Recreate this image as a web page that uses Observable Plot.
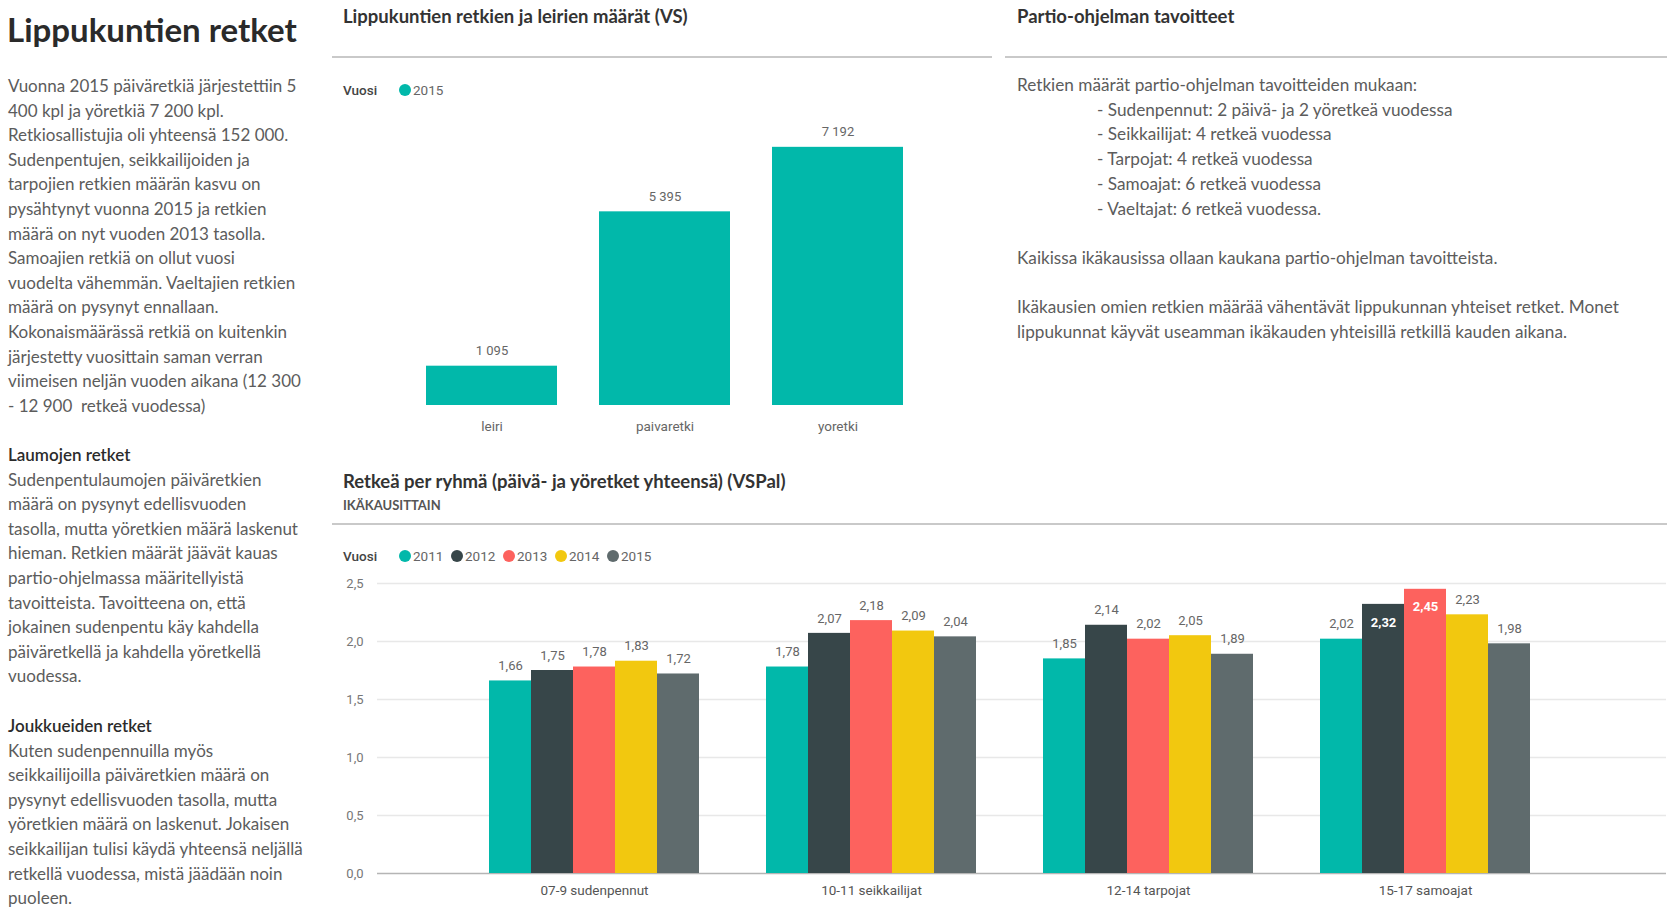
<!DOCTYPE html>
<html><head><meta charset="utf-8">
<script src="https://cdn.jsdelivr.net/npm/d3@7"></script>
<script src="https://cdn.jsdelivr.net/npm/@observablehq/plot@0.6"></script>
<style>
html,body{margin:0;padding:0;background:#fff;}
body{width:1667px;height:924px;position:relative;overflow:hidden;font-family:Lato,"Segoe UI","Open Sans",sans-serif;}
.abs{position:absolute;}
.pre{white-space:pre;}
.body-text{font-size:17px;line-height:24.6px;color:#5c5c5c;}
.heading{color:#2b2b2b;font-weight:600;}
.ptitle{font-size:18.5px;font-weight:700;color:#333;line-height:22px;}
.sub{font-size:13px;font-weight:700;color:#555;line-height:16px;}
.sep{height:0;border-top:2px solid #c9c9c9;}
.legend{font-family:Roboto,sans-serif;font-size:13.5px;color:#666;line-height:16px;display:flex;align-items:center;}
.legend .lab{font-weight:500;color:#444;width:56px;display:inline-block;}
.legend .dot{width:12px;height:12px;border-radius:50%;display:inline-block;margin-right:2px;}
.legend .item{display:flex;align-items:center;width:52px;}
.bul{padding-left:80px;}
</style></head><body>

<div class="abs" style="left:7px;top:11px;font-size:33px;font-weight:700;color:#2a2a2a;line-height:36px;">Lippukuntien retket</div>

<div class="abs pre body-text" style="left:8px;top:74px;">Vuonna 2015 päiväretkiä järjestettiin 5
400 kpl ja yöretkiä 7 200 kpl.
Retkiosallistujia oli yhteensä 152 000.
Sudenpentujen, seikkailijoiden ja
tarpojien retkien määrän kasvu on
pysähtynyt vuonna 2015 ja retkien
määrä on nyt vuoden 2013 tasolla.
Samoajien retkiä on ollut vuosi
vuodelta vähemmän. Vaeltajien retkien
määrä on pysynyt ennallaan.
Kokonaismäärässä retkiä on kuitenkin
järjestetty vuosittain saman verran
viimeisen neljän vuoden aikana (12 300
- 12 900  retkeä vuodessa)</div>

<div class="abs pre body-text" style="left:8px;top:443px;"><span class="heading">Laumojen retket</span>
Sudenpentulaumojen päiväretkien
määrä on pysynyt edellisvuoden
tasolla, mutta yöretkien määrä laskenut
hieman. Retkien määrät jäävät kauas
partio-ohjelmassa määritellyistä
tavoitteista. Tavoitteena on, että
jokainen sudenpentu käy kahdella
päiväretkellä ja kahdella yöretkellä
vuodessa.</div>

<div class="abs pre body-text" style="left:8px;top:714px;"><span class="heading">Joukkueiden retket</span>
Kuten sudenpennuilla myös
seikkailijoilla päiväretkien määrä on
pysynyt edellisvuoden tasolla, mutta
yöretkien määrä on laskenut. Jokaisen
seikkailijan tulisi käydä yhteensä neljällä
retkellä vuodessa, mistä jäädään noin
puoleen.</div>

<!-- top middle panel -->
<div class="abs ptitle" style="left:343px;top:5px;">Lippukuntien retkien ja leirien määrät (VS)</div>
<div class="abs sep" style="left:332px;top:56px;width:660px;"></div>
<div class="abs legend" id="legend1" style="left:343px;top:82px;"></div>
<div class="abs" id="chart1" style="left:332px;top:110px;"></div>

<!-- top right panel -->
<div class="abs ptitle" style="left:1017px;top:5px;">Partio-ohjelman tavoitteet</div>
<div class="abs sep" style="left:1005px;top:56px;width:662px;"></div>
<div class="abs body-text" style="left:1017px;top:73px;line-height:24.7px;font-size:17.2px;white-space:nowrap;">
<div>Retkien määrät partio-ohjelman tavoitteiden mukaan:</div>
<div class="bul">- Sudenpennut: 2 päivä- ja 2 yöretkeä vuodessa</div>
<div class="bul">- Seikkailijat: 4 retkeä vuodessa</div>
<div class="bul">- Tarpojat: 4 retkeä vuodessa</div>
<div class="bul">- Samoajat: 6 retkeä vuodessa</div>
<div class="bul">- Vaeltajat: 6 retkeä vuodessa.</div>
<div>&nbsp;</div>
<div>Kaikissa ikäkausissa ollaan kaukana partio-ohjelman tavoitteista.</div>
<div>&nbsp;</div>
<div>Ikäkausien omien retkien määrää vähentävät lippukunnan yhteiset retket. Monet</div>
<div>lippukunnat käyvät useamman ikäkauden yhteisillä retkillä kauden aikana.</div>
</div>

<!-- bottom panel -->
<div class="abs ptitle" style="left:343px;top:470px;">Retkeä per ryhmä (päivä- ja yöretket yhteensä) (VSPal)</div>
<div class="abs sub" style="left:343px;top:497px;">IKÄKAUSITTAIN</div>
<div class="abs sep" style="left:332px;top:523px;width:1335px;"></div>
<div class="abs legend" id="legend2" style="left:343px;top:548px;"></div>
<div class="abs" id="chart2base" style="left:332px;top:570px;"></div>
<div class="abs" id="chart2bars" style="left:332px;top:570px;"></div>

<script>
// ---- Data: chart 1 ----
const tripCategories = ["leiri", "paivaretki", "yoretki"];
const tripCounts2015 = [1095, 5395, 7192];
const chart1Legend = ["2015"];

// ---- Data: chart 2 ----
const ageGroups = ["07-9 sudenpennut", "10-11 seikkailijat", "12-14 tarpojat", "15-17 samoajat"];
const years = ["2011", "2012", "2013", "2014", "2015"];
const perGroup2011 = [1.66, 1.78, 1.85, 2.02];
const perGroup2012 = [1.75, 2.07, 2.14, 2.32];
const perGroup2013 = [1.78, 2.18, 2.02, 2.45];
const perGroup2014 = [1.83, 2.09, 2.05, 2.23];
const perGroup2015 = [1.72, 2.04, 1.89, 1.98];
const yTicks = [0, 0.5, 1, 1.5, 2, 2.5];

const yearColors = ["#01B8AA", "#374649", "#FD625E", "#F2C80F", "#5F6B6D"];
const teal = "#01B8AA";

const fi = d3.formatLocale({decimal: ",", thousands: " ", grouping: [3], currency: ["", ""]});
const fmtInt = fi.format(",d");
const fmt2 = fi.format(".2f");
const fmt1 = fi.format(".1f");

// legends
function legend(el, items, colors) {
  const root = document.getElementById(el);
  root.innerHTML = '<span class="lab">Vuosi</span>' + items.map((t, i) =>
    `<span class="item"><span class="dot" style="background:${colors[i]}"></span>${t}</span>`).join("");
}
legend("legend1", chart1Legend, [teal]);
legend("legend2", years, yearColors);

// ---- Chart 1 ----
const trips = tripCategories.map((c, i) => ({cat: c, value: tripCounts2015[i]}));
const chart1 = Plot.plot({
  width: 660, height: 330,
  marginTop: 15, marginBottom: 35, marginLeft: 7, marginRight: 3,
  style: {fontFamily: "Roboto, sans-serif", fontSize: "13px", color: "#666", background: "transparent", overflow: "visible"},
  x: {type: "band", domain: tripCategories, paddingInner: 0.243, paddingOuter: 0.5, label: null},
  y: {domain: [0, 7800], axis: null},
  marks: [
    Plot.barY(trips, {x: "cat", y: "value", fill: teal}),
    Plot.text(trips, {x: "cat", y: "value", text: d => fmtInt(d.value), dy: -15, fill: "#666", fontSize: 13}),
    Plot.axisX({tickSize: 0, tickPadding: 16, fontSize: 13.5, label: null})
  ]
});
document.getElementById("chart1").append(chart1);

// ---- Chart 2 ----
const series = [perGroup2011, perGroup2012, perGroup2013, perGroup2014, perGroup2015];
const rows = ageGroups.flatMap((g, i) => years.map((y, j) => ({group: g, year: y, value: series[j][i]})));
const yMax = yTicks[yTicks.length - 1];
const dims = {width: 1335, height: 338, marginTop: 13, marginBottom: 35, marginLeft: 45, marginRight: 1};
const groupScale = {type: "band", domain: ageGroups, paddingInner: 0.228, paddingOuter: 0.44, align: 0.45, label: null};
const chartStyle = {fontFamily: "Roboto, sans-serif", fontSize: "13px", color: "#666", background: "transparent", overflow: "visible"};

// base layer: gridlines, y axis, group labels (same band scale as the facets)
const chart2base = Plot.plot({
  ...dims,
  style: chartStyle,
  x: groupScale,
  y: {domain: [0, yMax], label: null},
  marks: [
    Plot.ruleY(yTicks.slice(1), {stroke: "#e8e8e8", strokeWidth: 1.5}),
    Plot.ruleY([0], {stroke: "#b5b5b5", strokeWidth: 1.5}),
    Plot.axisY({ticks: yTicks, tickSize: 0, tickPadding: 14, tickFormat: fmt1, fill: "#777", fontSize: 13, label: null}),
    Plot.axisX({tickSize: 0, tickPadding: 12, fontSize: 13.5, fill: "#555", label: null})
  ]
});
document.getElementById("chart2base").append(chart2base);

// bar layer: grouped bars by age group (fx) and year (x)
const chart2bars = Plot.plot({
  ...dims,
  style: chartStyle,
  fx: {...groupScale, axis: null},
  x: {domain: years, padding: 0, axis: null},
  y: {domain: [0, yMax], axis: null},
  color: {domain: years, range: yearColors},
  marks: [
    Plot.barY(rows, {fx: "group", x: "year", y: "value", fill: "year"}),
    Plot.text(rows, {filter: d => d.value <= yMax - 0.2, fx: "group", x: "year", y: "value", text: d => fmt2(d.value), dy: -15, fill: "#666", fontSize: 13}),
    Plot.text(rows, {filter: d => d.value > yMax - 0.2, fx: "group", x: "year", y: "value", text: d => fmt2(d.value), dy: 18, fill: "white", fontWeight: "bold", fontSize: 13})
  ]
});
document.getElementById("chart2bars").append(chart2bars);
</script>
</body></html>
